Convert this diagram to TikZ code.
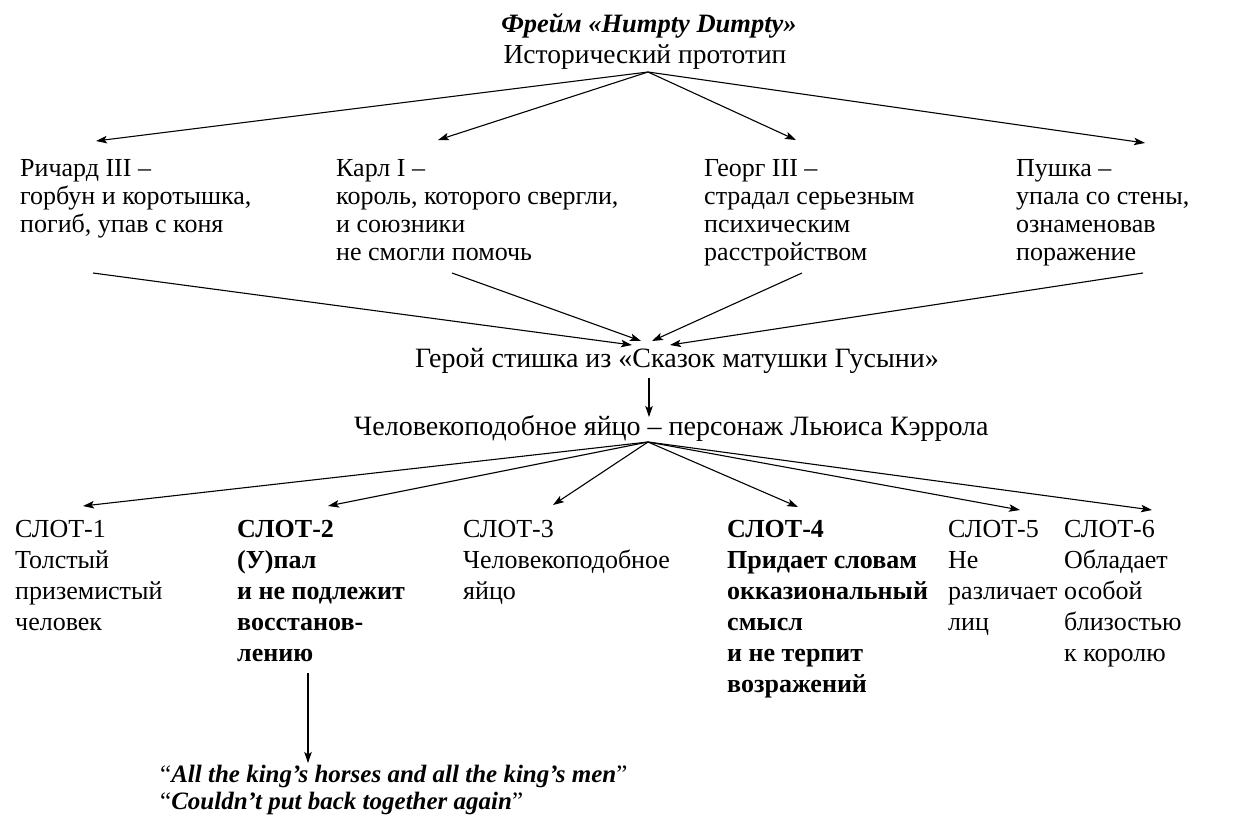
\documentclass[tikz,border=0pt]{standalone}
\usepackage{fontspec}
\setmainfont{Liberation Serif}
\usetikzlibrary{arrows.meta}
\tikzset{
  txt/.style={inner sep=0pt, anchor=base west, align=left, font=\fontsize{26}{28}\selectfont},
  slottxt/.style={txt, font=\fontsize{26}{31}\selectfont},
  slotbf/.style={txt, font=\fontsize{26}{31}\selectfont\bfseries},
  ctr/.style={inner sep=0pt, anchor=base, font=\fontsize{27.5}{30}\selectfont},
  big/.style={inner sep=0pt, font=\fontsize{28}{30}\selectfont},
  quote/.style={txt, font=\fontsize{25}{27}\selectfont},
  arr/.style={-{Stealth[length=11pt,width=7.5pt,inset=2.5pt]}, line width=1.1pt},
}
\begin{document}
\begin{tikzpicture}[x=1pt,y=-1pt]
\useasboundingbox (0,0) rectangle (1245,828);
% header
\node[ctr, font=\fontsize{26.5}{28}\selectfont\bfseries\itshape] (title) at (649,32) {Фрейм «Humpty Dumpty»};
\node[ctr] (proto) at (645,63) {Исторический прототип};
\coordinate (ap) at (648,72);
% first row (anchor = baseline of last line; first baseline 176, step 28)
\node[txt] (rich) at (20,232) {Ричард III –\\горбун и коротышка,\\погиб, упав с коня};
\node[txt] (karl) at (336,260) {Карл I –\\король, которого свергли,\\и союзники\\не смогли помочь};
\node[txt] (georg) at (704,260) {Георг III –\\страдал серьезным\\психическим\\расстройством};
\node[txt] (push) at (1016,260) {Пушка –\\упала со стены,\\ознаменовав\\поражение};
\coordinate (richT) at (96,141);
\coordinate (karlT) at (438,140);
\coordinate (georgT) at (796,140);
\coordinate (pushT) at (1145,143);
\coordinate (richB) at (93,273);
\coordinate (karlB) at (452,273);
\coordinate (georgB) at (802,273);
\coordinate (pushB) at (1143,273);
% hero
\node[big, anchor=base] (hero) at (677,367) {Герой стишка из «Сказок матушки Гусыни»};
\coordinate (h1) at (632,345);
\coordinate (h2) at (641,341);
\coordinate (h3) at (652,341);
\coordinate (h4) at (670,345);
\coordinate (heroB) at (649,378);
\node[big, anchor=base west] (chel) at (354,435) {Человекоподобное яйцо – персонаж Льюиса Кэррола};
\coordinate (chelT) at (649,417);
\coordinate (ap2) at (648,442);
% slots (anchor = baseline of last line; first baseline 537, step 31)
\node[slottxt] (s1) at (15,630) {СЛОТ-1\\Толстый\\приземистый\\человек};
\node[slotbf] (s2) at (237,661) {СЛОТ-2\\(У)пал\\и не подлежит\\восстанов-\\лению};
\node[slottxt] (s3) at (463,599) {СЛОТ-3\\Человекоподобное\\яйцо};
\node[slotbf] (s4) at (727,692) {СЛОТ-4\\Придает словам\\окказиональный\\смысл\\и не терпит\\возражений};
\node[slottxt] (s5) at (948,630) {СЛОТ-5\\Не\\различает\\лиц};
\node[slottxt] (s6) at (1064,661) {СЛОТ-6\\Обладает\\особой\\близостью\\к королю};
\coordinate (s1T) at (83,506);
\coordinate (s2T) at (328,506);
\coordinate (s3T) at (553,505);
\coordinate (s4T) at (798,507);
\coordinate (s5T) at (1020,510);
\coordinate (s6T) at (1152,510);
\coordinate (s2B) at (308,673);
% quotes
\node[quote] (q1) at (160,782) {“\textbf{\textit{All the king’s horses and all the king’s men}}”};
\node[quote] (q2) at (160,809) {“\textbf{\textit{Couldn’t put back together again}}”};
\coordinate (q1T) at (308,763);
% connectors
\foreach \t in {richT,karlT,georgT,pushT} \draw[arr] (ap) -- (\t);
\draw[arr] (richB) -- (h1);
\draw[arr] (karlB) -- (h2);
\draw[arr] (georgB) -- (h3);
\draw[arr] (pushB) -- (h4);
\draw[arr] (heroB) -- (chelT);
\foreach \t in {s1T,s2T,s3T,s4T,s5T,s6T} \draw[arr] (ap2) -- (\t);
\draw[arr] (s2B) -- (q1T);
\end{tikzpicture}
\end{document}
